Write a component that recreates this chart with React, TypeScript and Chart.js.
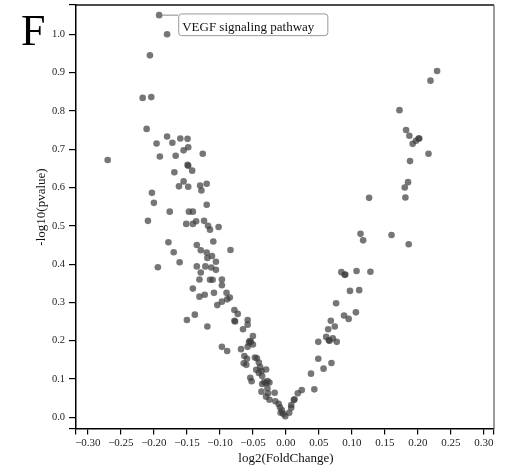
import React, { useEffect, useRef } from "react";
import { Chart, registerables } from "chart.js";

Chart.register(...registerables);

// log2(FoldChange) for each gene set (first one is annotated)
const logFC: number[] = [
  -0.192, -0.180, -0.206, -0.217, -0.204, -0.211, -0.270, -0.180, -0.160, -0.149,
  -0.196, -0.172, -0.148, -0.155, -0.191, -0.167, -0.126, -0.149, -0.148, -0.142,
  -0.169, -0.155, -0.162, -0.148, -0.130, -0.120, -0.128, -0.203, -0.200, -0.120,
  -0.176, -0.147, -0.141, -0.209, -0.151, -0.141, -0.136, -0.124, -0.118, -0.115,
  -0.102, -0.178, -0.135, -0.110, -0.170, -0.129, -0.120, -0.112, -0.119, -0.106,
  -0.084, -0.161, -0.194, -0.135, -0.122, -0.113, -0.106, -0.129, -0.131, -0.115,
  -0.111, -0.097, -0.141, -0.097, -0.131, -0.123, -0.109, -0.090, -0.085, -0.089,
  -0.097, -0.104, -0.150, -0.138, -0.119, -0.078, -0.073, -0.078, -0.077, -0.058,
  -0.058, -0.065, -0.050, -0.056, -0.053, -0.055, -0.050, -0.058, -0.097, -0.089,
  -0.068, -0.063, -0.059, -0.064, -0.060, -0.047, -0.044, -0.041, -0.039, -0.030,
  -0.045, -0.037, -0.041, -0.036, -0.054, -0.052, -0.028, -0.030, -0.033, -0.025,
  -0.036, -0.028, -0.037, -0.030, -0.027, -0.025, -0.017, -0.016, -0.011, -0.009,
  -0.006, -0.008, -0.004, -0.001, 0.005, 0.008, 0.008, 0.012, 0.013, 0.018,
  0.024, 0.043, 0.038, 0.049, 0.057, 0.069, 0.049, 0.061, 0.065, 0.066,
  0.071, 0.077, 0.064, 0.074, 0.068, 0.088, 0.095, 0.106, 0.076, 0.097,
  0.111, 0.084, 0.089, 0.090, 0.107, 0.128, 0.113, 0.117, 0.160, 0.186,
  0.126, 0.181, 0.180, 0.185, 0.188, 0.216, 0.192, 0.197, 0.201, 0.202,
  0.187, 0.182, 0.172, 0.219, 0.229,
];

// -log10(pvalue) for each gene set
const negLogP: number[] = [
  1.050, 1.000, 0.945, 0.834, 0.836, 0.753, 0.672, 0.733, 0.728, 0.727,
  0.715, 0.717, 0.705, 0.697, 0.681, 0.683, 0.688, 0.659, 0.657, 0.644,
  0.640, 0.616, 0.603, 0.602, 0.605, 0.610, 0.592, 0.586, 0.560, 0.555,
  0.537, 0.537, 0.537, 0.513, 0.505, 0.505, 0.512, 0.513, 0.500, 0.490,
  0.497, 0.457, 0.450, 0.459, 0.431, 0.436, 0.430, 0.421, 0.416, 0.406,
  0.437, 0.405, 0.392, 0.394, 0.394, 0.391, 0.385, 0.378, 0.360, 0.359,
  0.359, 0.360, 0.336, 0.345, 0.315, 0.320, 0.325, 0.325, 0.313, 0.308,
  0.302, 0.293, 0.254, 0.268, 0.237, 0.280, 0.270, 0.252, 0.250, 0.254,
  0.242, 0.230, 0.212, 0.195, 0.197, 0.199, 0.190, 0.184, 0.184, 0.173,
  0.178, 0.160, 0.153, 0.141, 0.137, 0.156, 0.154, 0.143, 0.131, 0.125,
  0.124, 0.121, 0.116, 0.108, 0.103, 0.094, 0.095, 0.089, 0.092, 0.091,
  0.087, 0.076, 0.067, 0.054, 0.063, 0.046, 0.064, 0.042, 0.035, 0.026,
  0.018, 0.012, 0.009, 0.003, 0.012, 0.025, 0.032, 0.045, 0.047, 0.063,
  0.071, 0.073, 0.114, 0.153, 0.127, 0.142, 0.197, 0.210, 0.201, 0.200,
  0.206, 0.197, 0.230, 0.237, 0.252, 0.266, 0.257, 0.274, 0.298, 0.330,
  0.332, 0.379, 0.372, 0.373, 0.382, 0.380, 0.479, 0.462, 0.476, 0.452,
  0.573, 0.574, 0.600, 0.614, 0.669, 0.688, 0.714, 0.722, 0.728, 0.728,
  0.735, 0.750, 0.802, 0.879, 0.904,
];

const xTickValues: number[] = [-0.3, -0.25, -0.2, -0.15, -0.1, -0.05, 0, 0.05, 0.1, 0.15, 0.2, 0.25, 0.3];
const yTickValues: number[] = [0, 0.1, 0.2, 0.3, 0.4, 0.5, 0.6, 0.7, 0.8, 0.9, 1.0];
const xRange: number[] = [-0.318, 0.3152];
const yRange: number[] = [-0.0305, 1.0765];

const annotationIndex = 0;
const annotationText = "VEGF signaling pathway";
const panelLabel = "F";
const xTitle = "log2(FoldChange)";
const yTitle = "-log10(pvalue)";

const SERIF = '"Liberation Serif", "Times New Roman", serif';

function fmt(v: number, d: number): string {
  const s = Math.abs(v).toFixed(d);
  return v < -1e-9 ? "\u2212" + s : s;
}

export default function App() {
  const ref = useRef<HTMLCanvasElement | null>(null);

  useEffect(() => {
    const canvas = ref.current;
    if (!canvas) return;
    const points = logFC.map((x, i) => ({ x, y: negLogP[i] }));

    const overlay = {
      id: "overlay",
      afterDraw(chart: any) {
        const { ctx, chartArea: a, scales } = chart;
        const sx = scales.x;
        const sy = scales.y;
        ctx.save();
        // top and right frame
        ctx.strokeStyle = "#111";
        ctx.lineWidth = 1.5;
        ctx.beginPath();
        ctx.moveTo(a.left, a.top);
        ctx.lineTo(a.right, a.top);
        ctx.stroke();
        ctx.strokeStyle = "#666";
        ctx.lineWidth = 1.3;
        ctx.beginPath();
        ctx.moveTo(a.right, a.top);
        ctx.lineTo(a.right, a.bottom);
        ctx.stroke();

        // panel label
        ctx.fillStyle = "#000";
        ctx.textAlign = "left";
        ctx.textBaseline = "alphabetic";
        ctx.font = "44px " + SERIF;
        ctx.fillText(panelLabel, 21, 45);

        // annotation
        const px = sx.getPixelForValue(logFC[annotationIndex]);
        const py = sy.getPixelForValue(negLogP[annotationIndex]);
        ctx.font = "13px " + SERIF;
        const tw = ctx.measureText(annotationText).width;
        const bx = px + 19;
        const by = py - 1.7;
        const bw = tw + 17;
        const bh = 21.7;
        ctx.strokeStyle = "#888";
        ctx.lineWidth = 1;
        ctx.beginPath();
        ctx.moveTo(px + 3, py);
        ctx.lineTo(bx, py);
        ctx.stroke();
        ctx.fillStyle = "#fff";
        ctx.strokeStyle = "#999";
        ctx.beginPath();
        (ctx as any).roundRect(bx + 0.5, by + 0.5, bw, bh, 3);
        ctx.fill();
        ctx.stroke();
        ctx.fillStyle = "#111";
        ctx.fillText(annotationText, bx + 4, by + 17.4);

        // axis titles
        ctx.textAlign = "center";
        ctx.textBaseline = "middle";
        ctx.fillStyle = "#111";
        ctx.fillText(xTitle, (a.left + a.right) / 2 + 1, 459);
        ctx.translate(42, 207);
        ctx.rotate(-Math.PI / 2);
        ctx.fillText(yTitle, 0, 0);
        ctx.restore();
      },
    };

    const chart = new Chart(canvas, {
      type: "scatter",
      data: {
        datasets: [
          {
            data: points,
            backgroundColor: "rgba(60,60,60,0.7)",
            borderWidth: 0,
            pointRadius: 3.3,
            pointHoverRadius: 3.3,
          },
        ],
      },
      options: {
        animation: false,
        responsive: true,
        maintainAspectRatio: false,
        events: [],
        layout: { padding: { left: 0, top: 5, right: 14, bottom: 0 } },
        plugins: { legend: { display: false }, tooltip: { enabled: false } },
        scales: {
          x: {
            type: "linear",
            min: xRange[0],
            max: xRange[1],
            afterBuildTicks: (s: any) => {
              s.ticks = [xRange[0], ...xTickValues, xRange[1]].map((v) => ({ value: v }));
            },
            afterFit: (s: any) => {
              s.height = 41;
              s.paddingLeft = 0;
              s.paddingRight = 0;
            },
            ticks: {
              autoSkip: false,
              maxRotation: 0,
              minRotation: 0,
              padding: 2,
              color: "#222",
              font: { family: SERIF, size: 11 },
              callback: (v: any, i: number, t: any[]) =>
                i === 0 || i === t.length - 1 ? "" : fmt(Number(v), 2),
            },
            grid: { drawOnChartArea: false, drawTicks: true, tickLength: 5.5, color: "#000", lineWidth: 1.2 },
            border: { display: true, color: "#000", width: 1.5 },
          },
          y: {
            type: "linear",
            min: yRange[0],
            max: yRange[1],
            afterBuildTicks: (s: any) => {
              s.ticks = [yRange[0], ...yTickValues, yRange[1]].map((v) => ({ value: v }));
            },
            afterFit: (s: any) => {
              s.width = 76;
              s.paddingTop = 0;
              s.paddingBottom = 0;
            },
            ticks: {
              autoSkip: false,
              padding: 4,
              color: "#222",
              font: { family: SERIF, size: 10.5 },
              callback: (v: any, i: number, t: any[]) =>
                i === 0 || i === t.length - 1 ? "" : fmt(Number(v), 1),
            },
            grid: { drawOnChartArea: false, drawTicks: true, tickLength: 7, color: "#000", lineWidth: 1.2 },
            border: { display: true, color: "#000", width: 1.5 },
          },
        },
      },
      plugins: [overlay],
    } as any);

    return () => chart.destroy();
  }, []);

  return (
    <div style={{ position: "absolute", left: 0, top: 0, width: 508, height: 470, background: "#fff" }}>
      <canvas ref={ref} />
    </div>
  );
}
